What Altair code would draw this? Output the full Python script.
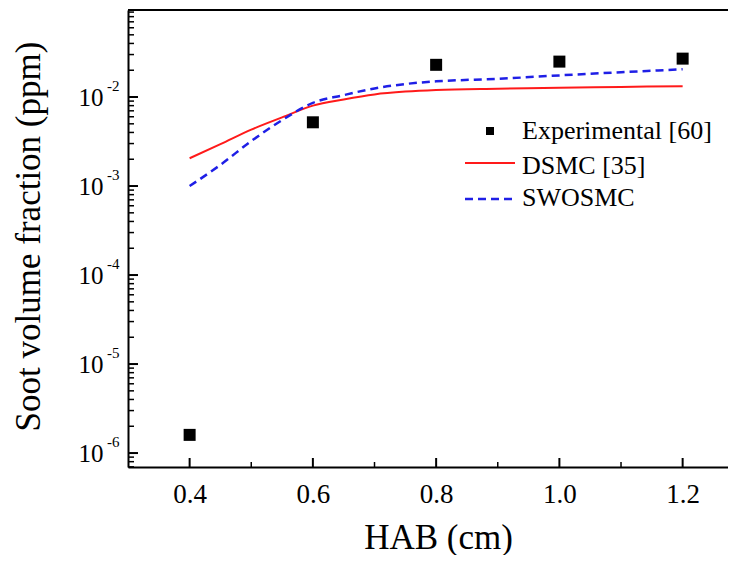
import altair as alt
import pandas as pd

# ---- data ----
x_exp = [0.4, 0.6, 0.8, 1.0, 1.2]
y_exp = [1.6e-6, 5.2e-3, 2.3e-2, 2.5e-2, 2.7e-2]

x_sim = [0.40, 0.45, 0.50, 0.55, 0.60, 0.65, 0.70, 0.75, 0.80, 0.90, 1.00, 1.10, 1.20]
y_dsmc = [2.05e-3, 2.95e-3, 4.3e-3, 5.9e-3, 8.0e-3, 9.4e-3, 1.07e-2, 1.15e-2, 1.2e-2,
          1.24e-2, 1.27e-2, 1.3e-2, 1.32e-2]
y_swosmc = [1.0e-3, 1.73e-3, 3.2e-3, 5.5e-3, 8.6e-3, 1.05e-2, 1.25e-2, 1.4e-2, 1.5e-2,
            1.6e-2, 1.75e-2, 1.9e-2, 2.05e-2]

series_names = ["Experimental [60]", "DSMC [35]", "SWOSMC"]

x_major = [0.4, 0.6, 0.8, 1.0, 1.2]
x_minor = [0.5, 0.7, 0.9, 1.1]
y_major = [1e-6, 1e-5, 1e-4, 1e-3, 1e-2]
y_exponents = ["-6", "-5", "-4", "-3", "-2"]

FONT = "Liberation Serif"
W, H = 600, 457
x_dom = [0.3, 1.2736]
y_dom = [6.97e-7, 0.095]

y_minor = [m * 10.0 ** k for k in range(-7, -1) for m in range(2, 10)
           if y_dom[0] <= m * 10.0 ** k <= y_dom[1]]

xscale = alt.Scale(domain=x_dom, nice=False, zero=False)
yscale = alt.Scale(type="log", domain=y_dom, nice=False)

df_exp = pd.DataFrame({"x": x_exp, "y": y_exp})
df_dsmc = pd.DataFrame({"x": x_sim, "y": y_dsmc})
df_swo = pd.DataFrame({"x": x_sim, "y": y_swosmc})

x_axis = alt.Axis(values=x_major, format=".1f", ticks=False, grid=False,
                  domainWidth=2, domainColor="black", labelFontSize=27,
                  labelFont=FONT, labelColor="black", labelPadding=35,
                  labelBaseline="alphabetic", labelFlush=False, labelOverlap=False,
                  title="HAB (cm)", titleFont=FONT, titleFontSize=35,
                  titleFontWeight="normal", titleColor="black",
                  titleX=310, titleY=81, titleBaseline="alphabetic", titleAlign="center")
y_axis = alt.Axis(values=y_major, labelExpr="'10'", ticks=False, grid=False,
                  domainWidth=2, domainColor="black", labelFontSize=25,
                  labelFont=FONT, labelColor="black", labelPadding=25,
                  labelFlush=False, labelOverlap=False,
                  title="Soot volume fraction (ppm)", titleFont=FONT, titleFontSize=35,
                  titleFontWeight="normal", titleColor="black", titleAngle=270,
                  titleX=-100, titleY=226, titleBaseline="middle", titleAlign="center")

X = alt.X("x:Q", scale=xscale, axis=x_axis)
Y = alt.Y("y:Q", scale=yscale, axis=y_axis)

points = alt.Chart(df_exp).mark_square(size=144, color="black", opacity=1).encode(x=X, y=Y)

line_dsmc = alt.Chart(df_dsmc).mark_line(color="#ff1a1a", strokeWidth=2, interpolate="monotone").encode(x=X, y=Y)
line_swo = alt.Chart(df_swo).mark_line(color="#1f1fe6", strokeWidth=2.5, strokeDash=[8, 5],
                                       interpolate="monotone").encode(x=X, y=Y)

# inward ticks
ymaj = alt.Chart(pd.DataFrame({"y": y_major})).mark_rule(color="black", strokeWidth=2).encode(
    y=Y, x=alt.value(0), x2=alt.value(10))
ymin = alt.Chart(pd.DataFrame({"y": y_minor})).mark_rule(color="black", strokeWidth=1.5).encode(
    y=Y, x=alt.value(0), x2=alt.value(6))
xmaj = alt.Chart(pd.DataFrame({"x": x_major})).mark_rule(color="black", strokeWidth=2).encode(
    x=X, y=alt.value(H), y2=alt.value(H - 9))
xmin = alt.Chart(pd.DataFrame({"x": x_minor})).mark_rule(color="black", strokeWidth=1.5).encode(
    x=X, y=alt.value(H), y2=alt.value(H - 5))

# exponents of the y labels
exps = alt.Chart(pd.DataFrame({"y": y_major, "e": y_exponents})).mark_text(
    align="left", baseline="middle", fontSize=15, font=FONT, color="black", dy=-11
).encode(y=Y, x=alt.value(-21), text="e:N")

# top frame line
top = alt.Chart(pd.DataFrame({"d": [0]})).mark_rule(color="black", strokeWidth=2).encode(
    x=alt.value(0), x2=alt.value(W), y=alt.value(0))

# legend
leg_df = pd.DataFrame({"label": series_names})
leg_sq = alt.Chart(leg_df.iloc[[0]]).mark_square(size=64, color="black", opacity=1).encode(
    x=alt.value(362), y=alt.value(121))
leg_red = alt.Chart(leg_df.iloc[[1]]).mark_rule(color="#ff1a1a", strokeWidth=2).encode(
    x=alt.value(337), x2=alt.value(387), y=alt.value(153))
leg_blue = alt.Chart(leg_df.iloc[[2]]).mark_rule(color="#1f1fe6", strokeWidth=2.5, strokeDash=[8, 5]).encode(
    x=alt.value(337), x2=alt.value(387), y=alt.value(189))
leg_t1 = alt.Chart(leg_df.iloc[[0]]).mark_text(align="left", baseline="middle", fontSize=26, font=FONT,
                                                color="black").encode(x=alt.value(394), y=alt.value(121), text="label:N")
leg_t2 = alt.Chart(leg_df.iloc[[1]]).mark_text(align="left", baseline="middle", fontSize=26, font=FONT,
                                                color="black").encode(x=alt.value(394), y=alt.value(156), text="label:N")
leg_t3 = alt.Chart(leg_df.iloc[[2]]).mark_text(align="left", baseline="middle", fontSize=26, font=FONT,
                                                color="black").encode(x=alt.value(394), y=alt.value(188), text="label:N")

chart = alt.layer(
    points, line_dsmc, line_swo, ymaj, ymin, xmaj, xmin, exps, top,
    leg_sq, leg_red, leg_blue, leg_t1, leg_t2, leg_t3
).properties(
    width=W, height=H,
    autosize=alt.AutoSizeParams(type="none"),
    padding={"left": 120, "top": 2, "right": 0, "bottom": 88},
).configure_view(strokeWidth=0).configure(background="white").configure_axis(
    labelFont=FONT, titleFont=FONT
).configure_text(font=FONT)

chart.save("out.html", embed_options={"renderer": "svg", "actions": False})
